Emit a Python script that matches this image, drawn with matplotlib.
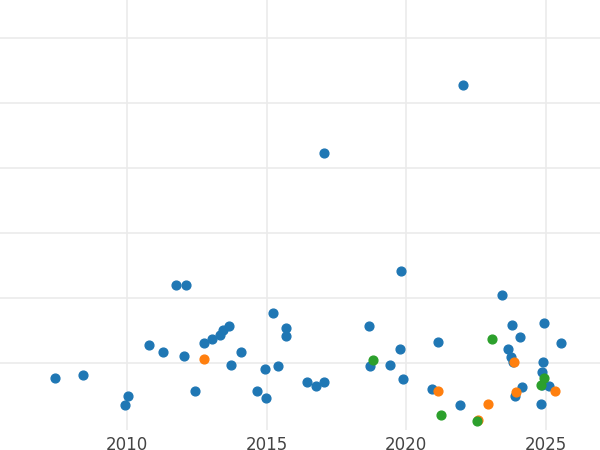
import matplotlib
matplotlib.use('agg')
import matplotlib.pyplot as plt

# blue series
blue_x = [2007.42, 2008.42, 2009.93, 2010.04, 2010.79, 2011.29, 2011.76, 2012.11, 2012.04, 2012.44,
          2012.76, 2013.05, 2013.33, 2013.44, 2013.66, 2013.73, 2014.09, 2014.66, 2014.98, 2014.95,
          2015.23, 2015.41, 2015.70, 2015.70, 2016.45, 2016.77, 2017.06, 2017.06, 2018.67, 2018.71,
          2019.43, 2019.78, 2019.82, 2019.89, 2020.93, 2021.15, 2021.94, 2022.04, 2023.44, 2023.66,
          2023.80, 2023.76, 2023.84, 2023.91, 2024.09, 2024.16, 2024.87, 2024.91, 2024.84, 2024.95,
          2025.13, 2025.56, 2024.87]
blue_y = [0.77, 0.82, 0.35, 0.49, 1.28, 1.17, 2.2, 2.2, 1.11, 0.57,
          1.31, 1.37, 1.43, 1.51, 1.57, 0.97, 1.17, 0.57, 0.46, 0.91,
          1.77, 0.95, 1.54, 1.42, 0.71, 0.65, 0.71, 4.23, 1.57, 0.95,
          0.97, 1.22, 2.42, 0.75, 0.6, 1.32, 0.35, 5.28, 2.05, 1.22,
          1.58, 1.09, 1.02, 0.49, 1.4, 0.63, 0.86, 1.02, 0.37, 1.62,
          0.65, 1.31, 0.66]
orange_x = [2012.76, 2021.15, 2022.58, 2022.94, 2023.87, 2023.95, 2025.34]
orange_y = [1.06, 0.57, 0.12, 0.37, 1.02, 0.55, 0.57]
green_x = [2018.82, 2021.25, 2022.54, 2023.08, 2024.95, 2024.84]
green_y = [1.05, 0.2, 0.11, 1.37, 0.77, 0.66]

fig = plt.figure(figsize=(6, 4.5), dpi=100)
ax = fig.add_axes([0, 0.044, 1, 0.956])
ax.scatter(blue_x, blue_y, s=40, color='#1f77b4', zorder=3)
ax.scatter(orange_x, orange_y, s=40, color='#ff7f0e', zorder=3)
ax.scatter(green_x, green_y, s=40, color='#2ca02c', zorder=3)
ax.set_xlim(2005.45, 2026.95)
ax.set_ylim(-0.03, 6.58)
ax.set_xticks([2010, 2015, 2020, 2025])
ax.set_yticks([1, 2, 3, 4, 5, 6])
ax.set_yticklabels([])
ax.grid(True, color='#ebebeb', linewidth=1.2, zorder=0)
for s in ax.spines.values():
    s.set_visible(False)
ax.tick_params(length=0, labelsize=12, labelcolor='#444444', pad=4)
fig.savefig('out.png')
